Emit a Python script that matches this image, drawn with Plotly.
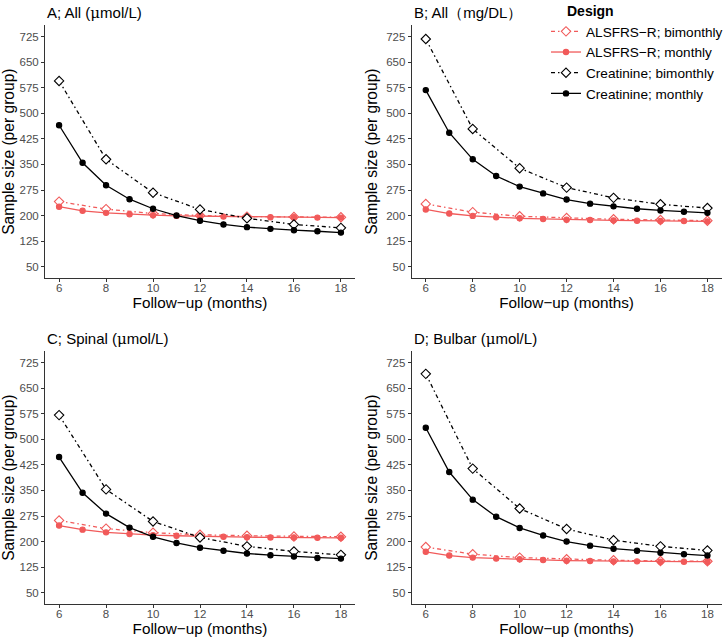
import plotly.graph_objects as go

months_monthly = [6, 7, 8, 9, 10, 11, 12, 13, 14, 15, 16, 17, 18]
months_bimonthly = [6, 8, 10, 12, 14, 16, 18]
x_ticks = [6, 8, 10, 12, 14, 16, 18]
y_ticks = [50, 125, 200, 275, 350, 425, 500, 575, 650, 725]

panel_titles = ["A; All (<span style='font-family:DejaVu Serif'>μ</span>mol/L)",
                "B; All\uff08mg/DL\uff09",
                "C; Spinal (<span style='font-family:DejaVu Serif'>μ</span>mol/L)",
                "D; Bulbar (<span style='font-family:DejaVu Serif'>μ</span>mol/L)"]

series_names = ["ALSFRS\u2212R; bimonthly", "ALSFRS\u2212R; monthly",
                "Creatinine; bimonthly", "Creatinine; monthly"]

# Panel A
a_als_bi = [241, 219, 206, 200, 197, 196, 195]
a_als_mo = [226, 214, 208, 204, 201, 199, 198, 197, 196, 195, 195, 194, 194]
a_cre_bi = [595, 365, 267, 218, 192, 174, 164]
a_cre_mo = [465, 355, 289, 248, 220, 200, 185, 174, 166, 161, 157, 154, 150]
# Panel B
b_als_bi = [234, 210, 198, 193, 189, 187, 185]
b_als_mo = [218, 206, 199, 195, 192, 190, 188, 187, 186, 185, 184, 184, 183]
b_cre_bi = [718, 454, 339, 282, 252, 233, 222]
b_cre_mo = [568, 443, 365, 316, 285, 265, 247, 235, 227, 220, 215, 211, 208]
# Panel C
c_als_bi = [262, 238, 226, 220, 217, 215, 214]
c_als_mo = [247, 235, 227, 222, 219, 217, 215, 214, 213, 212, 212, 211, 211]
c_cre_bi = [571, 353, 259, 212, 186, 171, 161]
c_cre_mo = [448, 343, 282, 241, 214, 196, 182, 173, 165, 160, 156, 152, 150]
# Panel D
d_als_bi = [184, 163, 153, 148, 145, 143, 142]
d_als_mo = [170, 159, 153, 150, 148, 146, 144, 143, 142, 142, 141, 141, 141]
d_cre_bi = [692, 414, 297, 237, 204, 186, 174]
d_cre_mo = [534, 404, 323, 273, 240, 218, 200, 188, 179, 173, 167, 163, 159]

panels = [
    (a_als_bi, a_als_mo, a_cre_bi, a_cre_mo),
    (b_als_bi, b_als_mo, b_cre_bi, b_cre_mo),
    (c_als_bi, c_als_mo, c_cre_bi, c_cre_mo),
    (d_als_bi, d_als_mo, d_cre_bi, d_cre_mo),
]

RED = "#F15A5A"
BLACK = "#000000"
DASH = "4px,3px,1.5px,3px"
W, H = 723, 640

# pixel layout
x_dom_px = [(45, 355), (411.7, 721.5), (45, 355), (411.7, 721.5)]
y_dom_px = [(25.1, 278.2), (25.1, 278.2), (351.1, 604.2), (351.1, 604.2)]

fig = go.Figure()

for i, (als_bi, als_mo, cre_bi, cre_mo) in enumerate(panels):
    sfx = "" if i == 0 else str(i + 1)
    xa, ya = "x" + sfx, "y" + sfx
    show = i == 0
    specs = [
        (months_bimonthly, als_bi, RED, DASH, "diamond", 7.2, "white", series_names[0]),
        (months_monthly, als_mo, RED, "solid", "circle", 5.3, RED, series_names[1]),
        (months_bimonthly, cre_bi, BLACK, DASH, "diamond", 7.2, "white", series_names[2]),
        (months_monthly, cre_mo, BLACK, "solid", "circle", 5.3, BLACK, series_names[3]),
    ]
    for xs, ys, col, dash, sym, size, fill, name in specs:
        fig.add_trace(go.Scatter(
            x=xs, y=ys, mode="lines+markers", name=name, legendgroup=name,
            showlegend=show, xaxis=xa, yaxis=ya,
            line=dict(color=col, width=1.3, dash=dash),
            marker=dict(symbol=sym, size=size, color=fill,
                        line=dict(color=col, width=1.1)),
        ))

layout = dict(
    width=W, height=H,
    margin=dict(l=0, r=0, t=0, b=0, autoexpand=False),
    paper_bgcolor="white", plot_bgcolor="white",
    font=dict(family="Liberation Sans, Arial, sans-serif", color="black"),
    legend=dict(
        x=546 / W, y=1 - 16 / H, xanchor="left", yanchor="top",
        font=dict(size=13.6), bgcolor="rgba(0,0,0,0)", tracegroupgap=0,
        itemwidth=30,
    ),
    annotations=[dict(
        text="<b>Design</b>", x=565 / W, y=1 - 11 / H, xref="paper", yref="paper",
        xanchor="left", yanchor="middle", showarrow=False,
        font=dict(size=14, color="black"),
    )],
)

for i in range(4):
    sfx = "" if i == 0 else str(i + 1)
    x0, x1 = x_dom_px[i]
    y0, y1 = y_dom_px[i]
    layout["xaxis" + sfx] = dict(
        domain=[x0 / W, x1 / W], anchor="y" + sfx,
        range=[5.4, 18.6], tickvals=x_ticks, ticks="outside", ticklen=3,
        tickcolor="#333333", showline=True, linecolor="#333333", linewidth=1,
        showgrid=False, zeroline=False, ticklabelstandoff=-4,
        tickfont=dict(size=11.5, color="#4D4D4D"),
        title=dict(text="Follow\u2212up (months)", font=dict(size=15.3), standoff=3),
    )
    layout["yaxis" + sfx] = dict(
        domain=[1 - y1 / H, 1 - y0 / H], anchor="x" + sfx,
        range=[16.25, 758.75], tickvals=y_ticks, ticks="outside", ticklen=3,
        tickcolor="#333333", showline=True, linecolor="#333333", linewidth=1,
        showgrid=False, zeroline=False,
        tickfont=dict(size=11.5, color="#4D4D4D"),
        title=dict(text="Sample size (per group)", font=dict(size=15.6), standoff=4),
    )
    layout["annotations"].append(dict(
        text=panel_titles[i], x=x0 / W, y=1 - (y0 - 12.5) / H,
        xref="paper", yref="paper", xanchor="left", yanchor="middle",
        showarrow=False, font=dict(size=15, color="black"),
    ))

fig.update_layout(**layout)
fig.write_html(
    "out.html",
    config={"displayModeBar": False},
    post_script="document.body.style.margin='0';document.body.style.overflow='hidden';",
)
